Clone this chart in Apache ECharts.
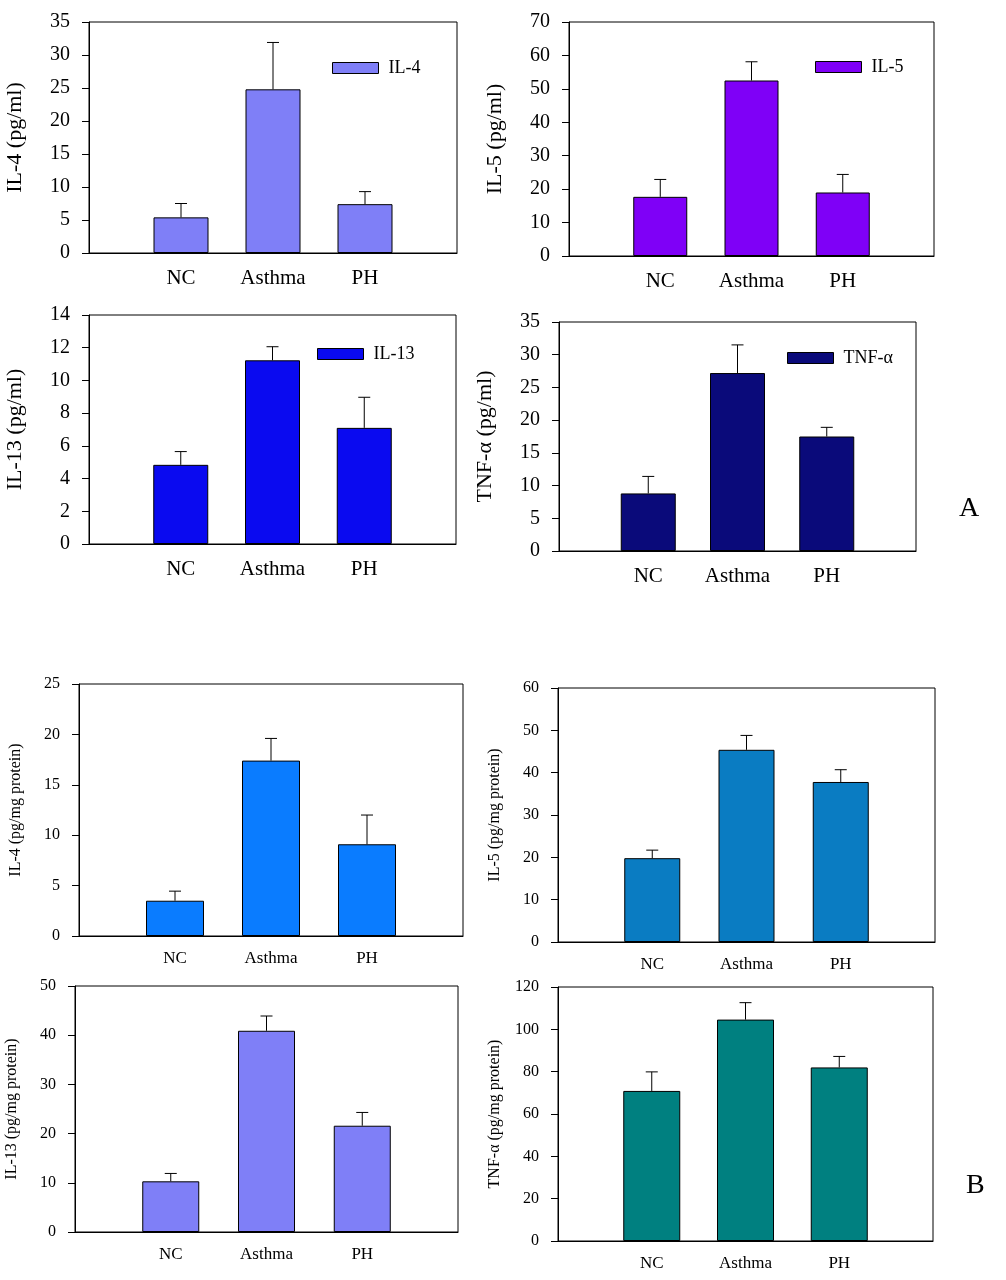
<!DOCTYPE html>
<html><head><meta charset="utf-8">
<script src="https://cdn.jsdelivr.net/npm/echarts@6/dist/echarts.min.js"></script>
<style>html,body{margin:0;padding:0;background:#fff}#c{width:1006px;height:1280px}</style>
</head><body><div id="c"></div>
<script>
const categories = ['NC', 'Asthma', 'PH'];

const il4Serum = [5.4, 24.8, 7.4];
const il4SerumErr = [2.1, 7.1, 1.9];
const il5Serum = [17.7, 52.5, 19.0];
const il5SerumErr = [5.2, 5.6, 5.4];
const il13Serum = [4.84, 11.23, 7.1];
const il13SerumErr = [0.81, 0.83, 1.87];
const tnfSerum = [8.8, 27.2, 17.5];
const tnfSerumErr = [2.6, 4.3, 1.4];

const il4Tissue = [3.5, 17.4, 9.1];
const il4TissueErr = [0.95, 2.2, 2.9];
const il5Tissue = [19.8, 45.4, 37.8];
const il5TissueErr = [1.9, 3.4, 2.9];
const il13Tissue = [10.3, 40.9, 21.6];
const il13TissueErr = [1.6, 3.0, 2.7];
const tnfTissue = [70.9, 104.6, 82.0];
const tnfTissueErr = [9.0, 8.0, 5.2];

const yTicks = {
  il4Serum: [0, 35, 5], il5Serum: [0, 70, 10], il13Serum: [0, 14, 2], tnfSerum: [0, 35, 5],
  il4Tissue: [0, 25, 5], il5Tissue: [0, 60, 10], il13Tissue: [0, 50, 10], tnfTissue: [0, 120, 20]
};

const FONT = 'Liberation Serif';
const panels = [
  {name: 'IL-4', title: 'IL-4 (pg/ml)', vals: il4Serum, errs: il4SerumErr, ticks: yTicks.il4Serum, color: '#7f7ff7',
   grid: {left: 89, top: 22, width: 368, height: 231}, bw: 55, big: true, legend: {left: 332, top: 59}},
  {name: 'IL-5', title: 'IL-5 (pg/ml)', vals: il5Serum, errs: il5SerumErr, ticks: yTicks.il5Serum, color: '#7f00f7',
   grid: {left: 569, top: 22, width: 365, height: 234}, bw: 54, big: true, legend: {left: 815, top: 58}},
  {name: 'IL-13', title: 'IL-13 (pg/ml)', vals: il13Serum, errs: il13SerumErr, ticks: yTicks.il13Serum, color: '#0a0af0',
   grid: {left: 89, top: 315, width: 367, height: 229}, bw: 55, big: true, legend: {left: 317, top: 345}},
  {name: 'TNF-α', title: 'TNF-α (pg/ml)', vals: tnfSerum, errs: tnfSerumErr, ticks: yTicks.tnfSerum, color: '#0a0a7a',
   grid: {left: 559, top: 322, width: 357, height: 229}, bw: 55, big: true, legend: {left: 787, top: 349}},
  {name: 'IL-4 tissue', title: 'IL-4 (pg/mg protein)', vals: il4Tissue, errs: il4TissueErr, ticks: yTicks.il4Tissue, color: '#0a7cff',
   grid: {left: 79, top: 684, width: 384, height: 252}, bw: 58, big: false},
  {name: 'IL-5 tissue', title: 'IL-5 (pg/mg protein)', vals: il5Tissue, errs: il5TissueErr, ticks: yTicks.il5Tissue, color: '#0a7cc2',
   grid: {left: 558, top: 688, width: 377, height: 254}, bw: 56, big: false},
  {name: 'IL-13 tissue', title: 'IL-13 (pg/mg protein)', vals: il13Tissue, errs: il13TissueErr, ticks: yTicks.il13Tissue, color: '#7f7ff7',
   grid: {left: 75, top: 986, width: 383, height: 246}, bw: 57, big: false},
  {name: 'TNF-α tissue', title: 'TNF-α (pg/mg protein)', vals: tnfTissue, errs: tnfTissueErr, ticks: yTicks.tnfTissue, color: '#008080',
   grid: {left: 558, top: 987, width: 375, height: 254}, bw: 57, big: false}
];

const axisCats = [''].concat(categories, ['']);
const grids = [], xAxes = [], yAxes = [], series = [], legends = [];

panels.forEach((p, i) => {
  grids.push(Object.assign({show: true, borderColor: '#000', borderWidth: 1, backgroundColor: 'transparent'}, p.grid));
  xAxes.push({
    type: 'category', gridIndex: i, data: axisCats, boundaryGap: false,
    axisLine: {lineStyle: {color: '#000', width: 1}}, axisTick: {show: false},
    axisLabel: {color: '#000', fontFamily: FONT, fontSize: p.big ? 21 : 17, margin: p.big ? 15 : 14, interval: 0}
  });
  yAxes.push({
    type: 'value', gridIndex: i, min: p.ticks[0], max: p.ticks[1], interval: p.ticks[2],
    name: p.title, nameLocation: 'middle', nameGap: p.big ? 63 : 55,
    nameTextStyle: {color: '#000', fontFamily: FONT, fontSize: p.big ? 22 : 16},
    axisLine: {show: true, lineStyle: {color: '#000', width: 1}},
    axisTick: {show: true, inside: false, length: 7, lineStyle: {color: '#000'}},
    splitLine: {show: false},
    axisLabel: {color: '#000', fontFamily: FONT, fontSize: p.big ? 20 : 16, margin: 19}
  });
  series.push({
    type: 'bar', name: p.name, xAxisIndex: i, yAxisIndex: i, barWidth: p.bw,
    itemStyle: {color: p.color, borderColor: '#000', borderWidth: 1},
    data: [null].concat(p.vals, [null])
  });
  series.push({
    type: 'custom', name: p.name + ' err', xAxisIndex: i, yAxisIndex: i, z: 3,
    data: p.vals.map((v, k) => [k + 1, v, v + p.errs[k]]),
    renderItem: function (params, api) {
      const base = api.coord([api.value(0), api.value(1)]);
      const top = api.coord([api.value(0), api.value(2)]);
      const hw = 6;
      return {
        type: 'group', children: [
          {type: 'line', shape: {x1: base[0], y1: base[1], x2: top[0], y2: top[1]}, style: {stroke: '#000', lineWidth: 1}},
          {type: 'line', shape: {x1: top[0] - hw, y1: top[1], x2: top[0] + hw, y2: top[1]}, style: {stroke: '#000', lineWidth: 1}}
        ]
      };
    }
  });
  if (p.legend) {
    legends.push({
      data: [p.name], left: p.legend.left, top: p.legend.top, padding: 0, orient: 'horizontal',
      itemWidth: 46, itemHeight: 11, selectedMode: false, icon: 'rect',
      itemStyle: {borderColor: '#000', borderWidth: 1},
      textStyle: {color: '#000', fontFamily: FONT, fontSize: 18, padding: [0, 0, 0, 5]}
    });
  }
});

const chart = echarts.init(document.getElementById('c'), null, {renderer: 'canvas'});
chart.setOption({
  animation: false,
  backgroundColor: '#fff',
  grid: grids, xAxis: xAxes, yAxis: yAxes, series: series, legend: legends,
  graphic: [
    {type: 'text', left: 959, top: 495, style: {text: 'A', font: '28px "Liberation Serif"', fill: '#000'}},
    {type: 'text', left: 966, top: 1172, style: {text: 'B', font: '28px "Liberation Serif"', fill: '#000'}}
  ]
});
</script></body></html>
